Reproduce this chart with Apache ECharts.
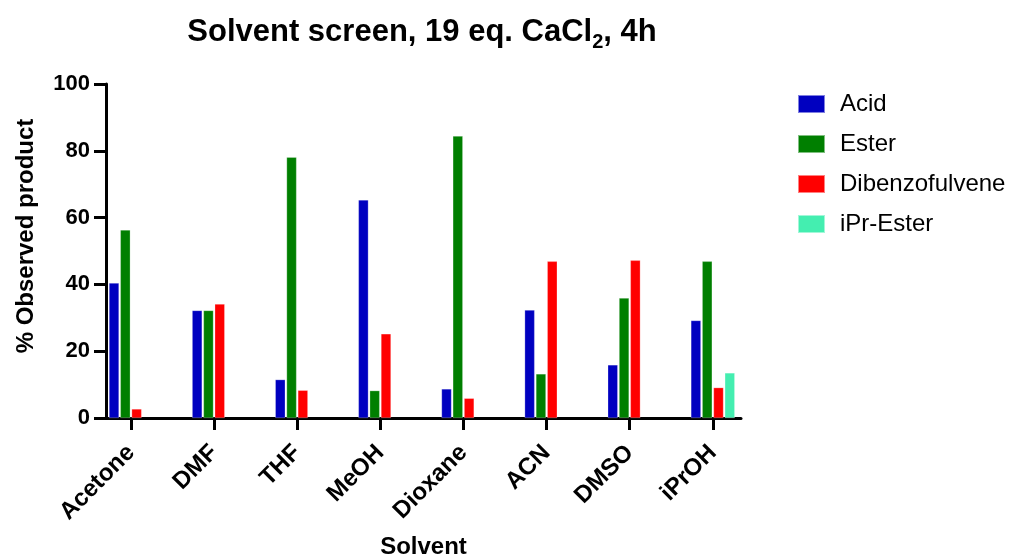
<!DOCTYPE html>
<html>
<head>
<meta charset="utf-8">
<script src="https://cdn.jsdelivr.net/npm/echarts@6/dist/echarts.min.js"></script>
<style>
html,body{margin:0;padding:0;background:#fff;}
#chart{width:1019px;height:559px;}
</style>
</head>
<body>
<div id="chart"></div>
<script>
var categories = ['Acetone', 'DMF', 'THF', 'MeOH', 'Dioxane', 'ACN', 'DMSO', 'iPrOH'];
var acid = [40.4, 32.2, 11.5, 65.3, 8.7, 32.3, 15.9, 29.2];
var ester = [56.3, 32.2, 78.1, 8.2, 84.4, 13.2, 35.9, 46.9];
var dibenzofulvene = [2.7, 34.1, 8.3, 25.2, 5.9, 46.9, 47.2, 9.1];
var iprEster = [null, null, null, null, null, null, null, 13.5];
var seriesNames = ['Acid', 'Ester', 'Dibenzofulvene', 'iPr-Ester'];
var seriesColors = ['#0000C0', '#007F00', '#FF0000', '#44EEB0'];
var yTicks = [0, 20, 40, 60, 80, 100];

var FONT = "'Liberation Sans', Arial, sans-serif";
var chart = echarts.init(document.getElementById('chart'), null, {renderer: 'canvas'});
var values = [acid, ester, dibenzofulvene, iprEster];

var series = seriesNames.map(function (n, i) {
  return {
    name: n,
    type: 'bar',
    xAxisIndex: 1,
    yAxisIndex: 1,
    data: values[i],
    barWidth: 10,
    barGap: '13%',
    itemStyle: {color: seriesColors[i], borderColor: 'rgba(255,255,255,0.5)', borderWidth: 0.5}
  };
});

chart.setOption({
  animation: false,
  backgroundColor: '#ffffff',
  title: {
    text: '{a|Solvent screen, 19 eq. CaCl}{b|2}{a|, 4h}',
    left: 417,
    textAlign: 'center',
    top: 7,
    textStyle: {
      rich: {
        a: {fontFamily: FONT, fontWeight: 'bold', fontSize: 31, color: '#000', lineHeight: 40, verticalAlign: 'middle'},
        b: {fontFamily: FONT, fontWeight: 'bold', fontSize: 20, color: '#000', lineHeight: 20, verticalAlign: 'bottom'}
      }
    }
  },
  legend: {
    orient: 'vertical',
    left: 792,
    top: 87,
    icon: 'rect',
    itemWidth: 27,
    itemHeight: 18,
    itemGap: 16,
    data: seriesNames,
    textStyle: {fontFamily: FONT, fontSize: 24, color: '#000', padding: [0, 0, 0, 10]}
  },
  grid: [
    {left: 106, top: 84, width: 635, height: 334, containLabel: false, outerBoundsMode: 'none'},
    {left: 89.4, top: 84, width: 665, height: 334, containLabel: false, outerBoundsMode: 'none'}
  ],
  xAxis: [
    {
      gridIndex: 0, type: 'value', min: 0, max: 1,
      axisLine: {show: true, lineStyle: {color: '#000', width: 3}},
      axisTick: {show: false}, axisLabel: {show: false}, splitLine: {show: false},
      name: 'Solvent', nameLocation: 'middle', nameGap: 117,
      nameTextStyle: {fontFamily: FONT, fontWeight: 'bold', fontSize: 24, color: '#000'}
    },
    {
      gridIndex: 1, type: 'category', data: categories,
      axisLine: {show: false},
      axisTick: {show: true, alignWithLabel: true, length: 12, lineStyle: {color: '#000', width: 3}},
      axisLabel: {rotate: 45, margin: 31, fontFamily: FONT, fontWeight: 'bold', fontSize: 24, color: '#000', interval: 0},
      splitLine: {show: false}
    }
  ],
  yAxis: [
    {
      gridIndex: 0, type: 'value', min: 0, max: 100, interval: 20,
      axisLine: {show: true, lineStyle: {color: '#000', width: 3}},
      axisTick: {show: true, length: 12, lineStyle: {color: '#000', width: 3}},
      axisLabel: {margin: 16, fontFamily: FONT, fontWeight: 'bold', fontSize: 22, color: '#000',
        formatter: function (v) { return yTicks.indexOf(v) >= 0 ? String(v) : ''; }},
      splitLine: {show: false},
      name: '% Observed product', nameLocation: 'middle', nameGap: 68,
      nameTextStyle: {fontFamily: FONT, fontWeight: 'bold', fontSize: 24, color: '#000', padding: [0, 0, 0, 30]}
    },
    {
      gridIndex: 1, type: 'value', min: 0, max: 100, show: false
    }
  ],
  series: series
});
</script>
</body>
</html>
